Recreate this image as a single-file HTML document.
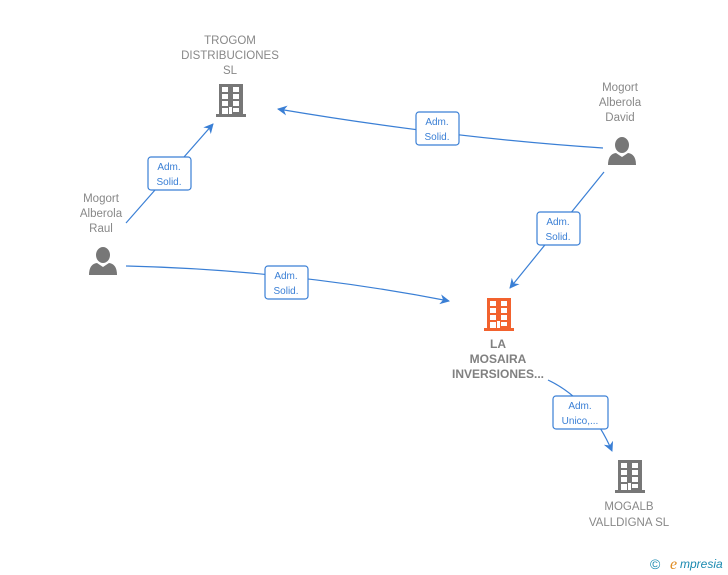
<!DOCTYPE html>
<html><head><style>
body{margin:0;background:#fff;}
svg{display:block;font-family:"Liberation Sans",Arial,sans-serif;}
.n{fill:#888;font-size:11.5px;text-anchor:middle;}
.nb{fill:#808080;font-size:12px;font-weight:bold;text-anchor:middle;}
.l{fill:#3a7fd5;font-size:10px;text-anchor:middle;}
.e{stroke:#3a7fd5;stroke-width:1.2;fill:none;}
.bx{fill:#fff;stroke:#3a7fd5;stroke-width:1.2;}
</style></head><body>
<svg width="728" height="575" viewBox="0 0 728 575">
<defs>
<g id="bld">
<rect x="3" y="0" width="24" height="31"/>
<rect x="0" y="30" width="30" height="3"/>
<g fill="#fff">
<rect x="6" y="3" width="6" height="5"/><rect x="17" y="3" width="6" height="5"/>
<rect x="6" y="10" width="6" height="5"/><rect x="17" y="10" width="6" height="5"/>
<rect x="6" y="17" width="6" height="5"/><rect x="17" y="17" width="6" height="5"/>
<rect x="6" y="24" width="6" height="6"/><rect x="17" y="24" width="6" height="4"/>
<rect x="13" y="23" width="3" height="7"/>
</g>
</g>
<g id="per">
<ellipse cx="14" cy="8" rx="7" ry="8"/>
<path d="M0 28 Q0 17 8 16 L14 20 L20 16 Q28 17 28 28 Z"/>
</g>
<marker id="ar" markerWidth="10" markerHeight="10" refX="9" refY="5" orient="auto" markerUnits="userSpaceOnUse">
<path d="M0 0 L10 5 L0 10 L3 5 Z" fill="#3a7fd5"/>
</marker>
</defs>

<path class="e" d="M126 223 L213 124" marker-end="url(#ar)"/>
<path class="e" d="M603 148 Q450 138 278 109" marker-end="url(#ar)"/>
<path class="e" d="M604 172 L510 288" marker-end="url(#ar)"/>
<path class="e" d="M126 266 Q290 270 449 301" marker-end="url(#ar)"/>
<path class="e" d="M548 380 Q590 400 612 451" marker-end="url(#ar)"/>

<rect class="bx" x="148" y="157" width="43" height="33" rx="3"/>
<text class="l" x="169" y="170">Adm.</text><text class="l" x="169" y="185">Solid.</text>
<rect class="bx" x="416" y="112" width="43" height="33" rx="3"/>
<text class="l" x="437" y="125">Adm.</text><text class="l" x="437" y="140">Solid.</text>
<rect class="bx" x="537" y="212" width="43" height="33" rx="3"/>
<text class="l" x="558" y="225">Adm.</text><text class="l" x="558" y="240">Solid.</text>
<rect class="bx" x="265" y="266" width="43" height="33" rx="3"/>
<text class="l" x="286" y="279">Adm.</text><text class="l" x="286" y="294">Solid.</text>
<rect class="bx" x="553" y="396" width="55" height="33" rx="3"/>
<text class="l" x="580" y="409">Adm.</text><text class="l" x="580" y="424">Unico,...</text>

<use href="#bld" x="216" y="84" fill="#777"/>
<text class="n" x="230" y="44" font-size="11">TROGOM</text>
<text class="n" x="230" y="59" font-size="11">DISTRIBUCIONES</text>
<text class="n" x="230" y="74" font-size="11">SL</text>

<use href="#per" x="89" y="247" fill="#777"/>
<text class="n" x="101" y="202">Mogort</text>
<text class="n" x="101" y="217">Alberola</text>
<text class="n" x="101" y="232">Raul</text>

<use href="#per" x="608" y="137" fill="#777"/>
<text class="n" x="620" y="91">Mogort</text>
<text class="n" x="620" y="106">Alberola</text>
<text class="n" x="620" y="121">David</text>

<use href="#bld" x="484" y="298" fill="#f2622e"/>
<text class="nb" x="498" y="348">LA</text>
<text class="nb" x="498" y="363">MOSAIRA</text>
<text class="nb" x="498" y="378">INVERSIONES...</text>

<use href="#bld" x="615" y="460" fill="#777"/>
<text class="n" x="629" y="510" font-size="11">MOGALB</text>
<text class="n" x="629" y="526" font-size="11">VALLDIGNA  SL</text>

<text x="650" y="569" fill="#1a8ab0" font-size="14">©</text>
<text x="670" y="569" fill="#e08a1e" font-size="16" font-style="italic" font-family="Liberation Serif,serif">e</text>
<text x="680" y="568" fill="#1a8ab0" font-size="12" font-style="italic">mpresia</text>
</svg>
</body></html>
